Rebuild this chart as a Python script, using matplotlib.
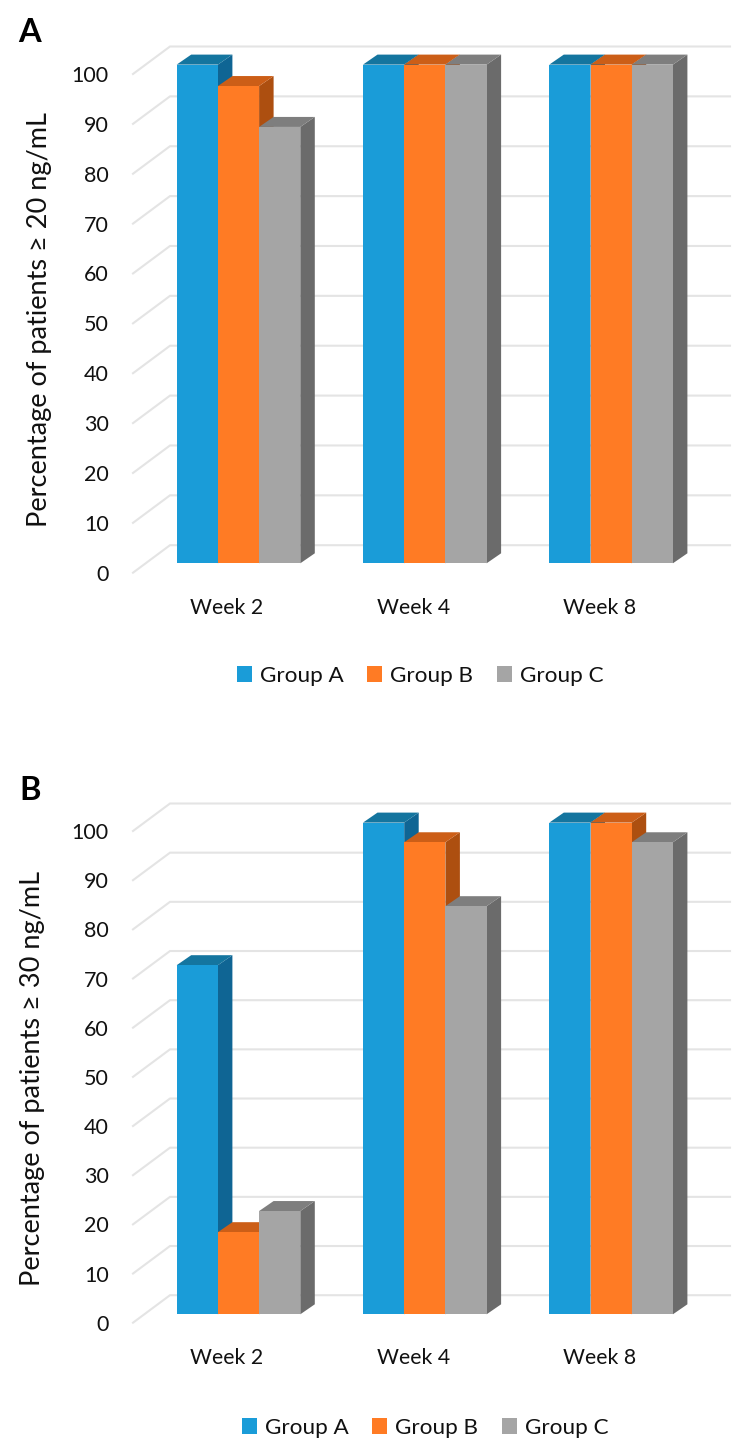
import matplotlib
matplotlib.use('Agg')
import matplotlib.pyplot as plt
from matplotlib.patches import Patch

plt.rcParams['font.family'] = ['Lato', 'DejaVu Sans']

weeks = ['Week 2', 'Week 4', 'Week 8']
groups = ['Group A', 'Group B', 'Group C']
yticks = [0, 10, 20, 30, 40, 50, 60, 70, 80, 90, 100]

# percent of patients, one list per group, Week 2 / 4 / 8
group_a_20 = [100, 100, 100]
group_b_20 = [95.7, 100, 100]
group_c_20 = [87.5, 100, 100]
group_a_30 = [71, 100, 100]
group_b_30 = [16.7, 96, 100]
group_c_30 = [21, 83, 96]

front_colors = ['#1A9CD8', '#FF7B24', '#A5A5A5']
side_colors = ['#0F6594', '#AD4F10', '#6B6B6B']
top_colors = ['#14759F', '#CC5E17', '#7E7E7E']
grid_color = '#E4E4E4'
text_color = '#111111'

W, H = 744, 1450
fig = plt.figure(figsize=(W / 100, H / 100), dpi=100, facecolor='white')

# everything below in pixels of the picture, converted to data units per panel
left, right = 133, 730
week_x0 = 227       # centre of the Week 2 label
week_step = 186.3
bar_w = 41.2
bar_shift = 11.5    # bars sit right of the label
side_dx, side_dy = 14.5, 10
wall_dx, wall_dy = 37, 27.5


def draw_panel(series, y0, y100, bar_lift, letter, letter_y, ylabel, ylabel_x, ylabel_y, legend_x, legend_y):
    ax = fig.add_axes([left / W, 1 - y0 / H, (right - left) / W, (y0 - y100) / H])
    ax.set_xlim((left - week_x0) / week_step, (right - week_x0) / week_step)
    ax.set_ylim(0, 100)
    sx = 1.0 / week_step
    sy = 100.0 / (y0 - y100)

    # floor and back wall lines
    for t in yticks:
        x_a = (left - week_x0) * sx
        x_b = (left + wall_dx - week_x0) * sx
        x_c = (right - week_x0) * sx
        y_b = t + wall_dy * sy
        ax.plot([x_a, x_b, x_c], [t, y_b, y_b], color=grid_color, lw=1.5, zorder=1,
                clip_on=False, solid_joinstyle='miter')

    w = bar_w * sx
    lift = bar_lift * sy
    for g, vals in enumerate(series):
        for i, v in enumerate(vals):
            x = i + bar_shift * sx + (g - 1.5) * w
            top = v + lift
            dx = side_dx * sx
            dy = side_dy * sy
            ax.fill([x + w, x + w + dx, x + w + dx, x + w], [lift, lift + dy, top + dy, top],
                    color=side_colors[g], lw=0, zorder=2 + g, clip_on=False)
            ax.fill([x, x + dx, x + w + dx, x + w], [top, top + dy, top + dy, top],
                    color=top_colors[g], lw=0, zorder=2 + g, clip_on=False)
            ax.bar(x, v, width=w, bottom=lift, align='edge', color=front_colors[g], lw=0,
                   zorder=2 + g, clip_on=False)

    for s in ax.spines.values():
        s.set_visible(False)
    ax.patch.set_alpha(0)
    ax.set_xticks(range(len(weeks)))
    ax.set_xticklabels(weeks, fontsize=15.3, color=text_color)
    ax.set_yticks(yticks)
    ax.set_yticklabels(yticks, fontsize=15.5, color=text_color)
    ax.tick_params(axis='x', length=0, pad=18.3)
    ax.tick_params(axis='y', length=0, pad=17.5)
    ax.set_ylabel(ylabel, fontsize=19.5, color=text_color, va='center')
    ax.yaxis.set_label_coords((ylabel_x - left) / (right - left), (y0 - ylabel_y) / (y0 - y100))

    fig.text(30 / W, 1 - letter_y / H, letter, fontsize=23.5, fontweight='bold', color='black',
             ha='center', va='center')

    handles = [Patch(facecolor=c, edgecolor='none', label=n) for c, n in zip(front_colors, groups)]
    fig.legend(handles=handles, loc='center', bbox_to_anchor=(legend_x / W, 1 - legend_y / H),
               ncol=3, frameon=False, fontsize=16.2, handlelength=0.67, handleheight=0.67,
               handletextpad=0.35, columnspacing=1.05, labelcolor=text_color,
               borderpad=0, borderaxespad=0)


draw_panel([group_a_20, group_b_20, group_c_20], 572.7, 74, 9.4, 'A', 33,
           'Percentage of patients \u2265 20 ng/mL', 40, 320, 420, 676)
draw_panel([group_a_30, group_b_30, group_c_30], 1322.7, 831, 8.4, 'B', 791,
           'Percentage of patients \u2265 30 ng/mL', 33, 1079, 425, 1428)

plt.savefig('out.png', dpi=100)
